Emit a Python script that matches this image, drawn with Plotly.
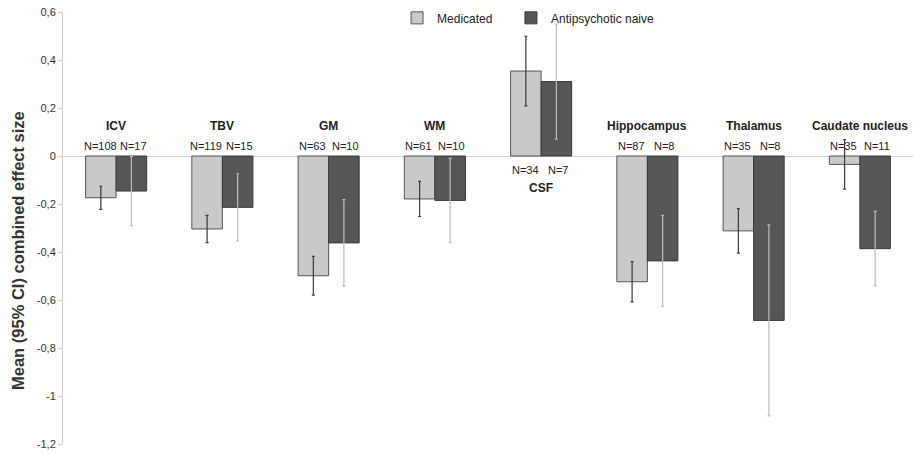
import plotly.graph_objects as go

categories = ["ICV", "TBV", "GM", "WM", "CSF", "Hippocampus", "Thalamus", "Caudate nucleus"]
medicated = [-0.174, -0.304, -0.499, -0.179, 0.354, -0.524, -0.312, -0.035]
medicated_ci = [0.048, 0.057, 0.081, 0.073, 0.145, 0.084, 0.093, 0.103]
naive = [-0.146, -0.214, -0.362, -0.185, 0.310, -0.437, -0.685, -0.386]
naive_ci = [0.144, 0.140, 0.180, 0.175, 0.240, 0.190, 0.398, 0.155]
n_medicated = [108, 119, 63, 61, 34, 87, 35, 35]
n_naive = [17, 15, 10, 10, 7, 8, 8, 11]
tick_vals = [0.6, 0.4, 0.2, 0, -0.2, -0.4, -0.6, -0.8, -1, -1.2]
tick_text = ["0,6", "0,4", "0,2", "0", "-0,2", "-0,4", "-0,6", "-0,8", "-1", "-1,2"]

FONT = "Liberation Sans, Arial, sans-serif"

fig = go.Figure()
fig.add_trace(go.Bar(
    x=categories, y=medicated, name="Medicated", legend="legend",
    marker=dict(color="#c8c9cb", line=dict(color="#555555", width=1)),
    error_y=dict(type="data", array=medicated_ci, color="#3a3a3a", thickness=1.2, width=1.5),
))
fig.add_trace(go.Bar(
    x=categories, y=naive, name="Antipsychotic naive", legend="legend2",
    marker=dict(color="#555657", line=dict(color="#3a3a3a", width=1)),
    error_y=dict(type="data", array=naive_ci, color="#bdbdbd", thickness=1.2, width=1.5),
))

annotations = []
for i, cat in enumerate(categories):
    pos = medicated[i] > 0
    name_y = -0.133 if pos else 0.125
    n_y = -0.058 if pos else 0.042
    annotations.append(dict(x=cat, y=name_y, xref="x", yref="y", text="<b>%s</b>" % cat,
                            showarrow=False, font=dict(family=FONT, size=12, color="#222")))
    annotations.append(dict(x=cat, y=n_y, xref="x", yref="y", xshift=-16,
                            text="N=%d" % n_medicated[i], showarrow=False,
                            font=dict(family=FONT, size=11, color="#222")))
    annotations.append(dict(x=cat, y=n_y, xref="x", yref="y", xshift=17,
                            text="N=%d" % n_naive[i], showarrow=False,
                            font=dict(family=FONT, size=11, color="#222")))

annotations.append(dict(x=-0.053, y=0.449, xref="paper", yref="paper",
                        text="<b>Mean (95% CI) combined effect size</b>", textangle=-90,
                        showarrow=False, xanchor="center", yanchor="middle",
                        font=dict(family=FONT, size=16.5, color="#333")))

legend_common = dict(orientation="h", y=1.02, xanchor="left", yanchor="top",
                     font=dict(family=FONT, size=12, color="#222"),
                     bgcolor="rgba(0,0,0,0)", itemwidth=30)

fig.update_layout(
    width=916, height=454,
    margin=dict(l=63, r=3, t=12, b=10),
    paper_bgcolor="white", plot_bgcolor="white",
    barmode="group", bargap=0.425, bargroupgap=0,
    font=dict(family=FONT, size=10, color="#333"),
    showlegend=True,
    legend=dict(x=0.393, **legend_common),
    legend2=dict(x=0.527, **legend_common),
    annotations=annotations,
    xaxis=dict(showticklabels=False, showline=False, showgrid=False, zeroline=False,
               ticks="", range=[-0.5, 7.5]),
    yaxis=dict(range=[-1.2, 0.6], tickvals=tick_vals, ticktext=tick_text,
               showgrid=False, zeroline=True, zerolinecolor="#d0d0d0", zerolinewidth=1,
               showline=True, linecolor="#d0d0d0", linewidth=1,
               ticks="outside", ticklen=4, tickcolor="#d0d0d0",
               tickfont=dict(family=FONT, size=11, color="#333")),
)

fig.write_html("out.html", config={"displayModeBar": False},
               post_script="document.body.style.margin='0';")
